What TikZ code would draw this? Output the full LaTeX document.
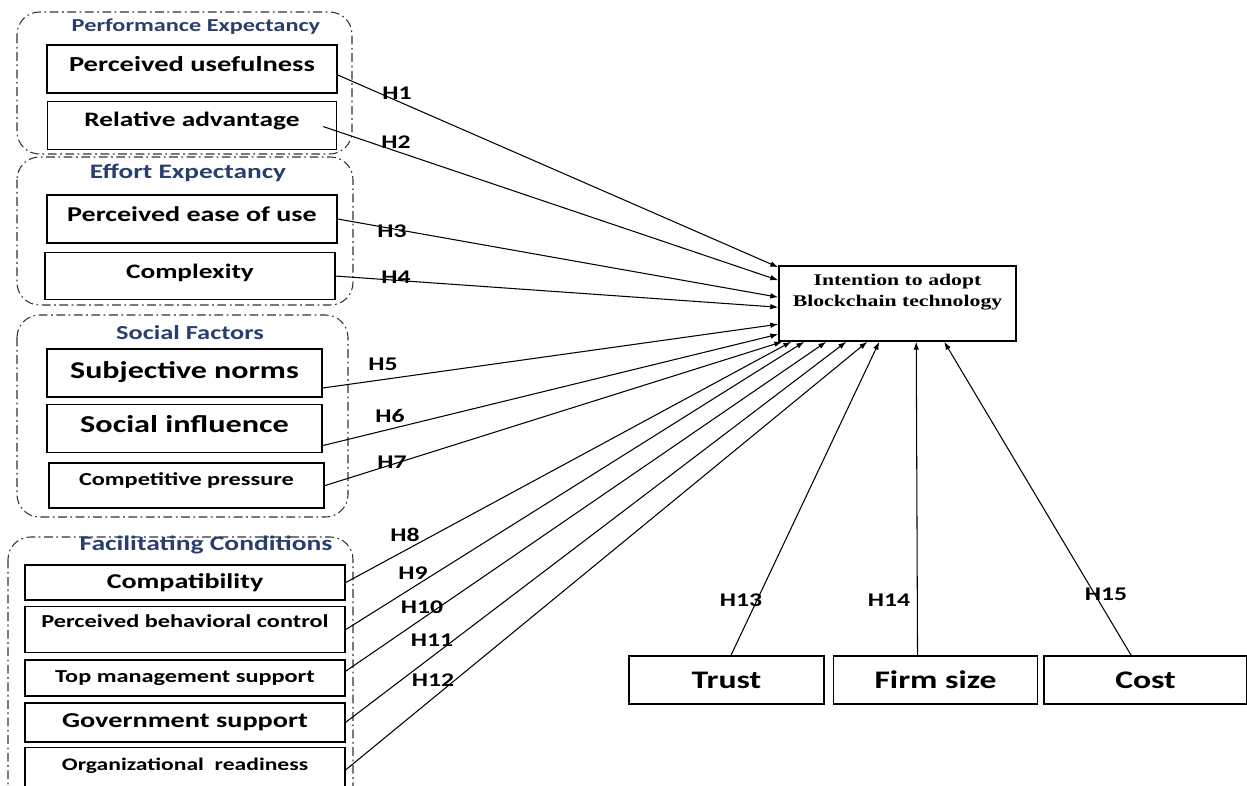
\documentclass[tikz,border=0pt]{standalone}
\usepackage{fontspec}
\setmainfont{Carlito}[FakeStretch=1.33]
\newfontfamily\serifb{Liberation Serif}[FakeStretch=1.33]
\usetikzlibrary{arrows.meta,positioning}
\definecolor{navy}{RGB}{40,62,110}
\newcommand\fsz[1]{\fontsize{#1}{#1}\selectfont}

\tikzset{
  box/.style={draw, line width=0.9pt, inner sep=0pt, font=\bfseries\fsz{#1}},
  group/.style={draw=black!80, line width=0.6pt, rounded corners=4.5mm,
    dash pattern=on 5pt off 2pt on 1pt off 2pt},
  gtitle/.style={text=navy, inner sep=0pt, font=\bfseries\fsz{#1}},
  hyp/.style={inner sep=0pt, font=\bfseries\fsz{11}},
  link/.style={line width=0.6pt, -{Latex[length=4.5pt,width=3.2pt]}},
}

\begin{document}
\begin{tikzpicture}[x=0.02cm, y=-0.02cm]
    \useasboundingbox (0,0) rectangle (1247,785);

    % Construct groups
    \draw[group] (17,12) rectangle (352,154);
    \draw[group] (17,157) rectangle (353,305);
    \draw[group] (17,315) rectangle (348,517);
    \draw[group] (8,537) rectangle (353,820);

    \node[gtitle=10.4] (perf) at (196,27) {Performance Expectancy};
    \node[gtitle=11.7] (effort) at (188,173) {Effort Expectancy};
    \node[gtitle=11.3] (social) at (190,333) {Social Factors};
    \node[gtitle=11.8] (facil) at (206,545) {Facilitating Conditions};

    % Determinants
    \node[box=12.2, minimum width=58mm, minimum height=9.6mm, text depth=5.2pt] (pu) at (192,69) {Perceived usefulness};
    \node[box=11.7, minimum width=57.8mm, minimum height=9.6mm, text depth=7.5pt, below=1.4mm of pu] (ra) {Relative advantage};
    \node[box=12, minimum width=58mm, minimum height=9.6mm, text depth=5.2pt] (pe) at (192,219) {Perceived ease of use};
    \node[box=11.7, minimum width=58mm, minimum height=9.4mm, text depth=5.8pt, below=1.6mm of pe, xshift=-0.4mm] (cx) {Complexity};

    \node[box=13.7, minimum width=55mm, minimum height=9.6mm, text depth=3.1pt] (sn) at (184.5,373) {Subjective norms};
    \node[box=13.8, minimum width=55mm, minimum height=9.6mm, text depth=5.3pt, below=1.2mm of sn] (si) {Social influence};
    \node[box=10.4, minimum width=55mm, minimum height=9mm, text depth=8pt, below=1.8mm of si, xshift=0.4mm] (cp) {Competitive pressure};

    \node[box=12, minimum width=64mm, minimum height=7mm] (co) at (185,582.5) {Compatibility};
    \node[box=10.4, minimum width=64mm, minimum height=9.2mm, text depth=9.7pt, below=1mm of co] (pb) {Perceived behavioral control};
    \node[box=10.4, minimum width=64mm, minimum height=7.2mm, below=1.2mm of pb] (tm) {Top management support};
    \node[box=12.1, minimum width=64mm, minimum height=7.8mm, below=1mm of tm] (gs) {Government support};
    \node[box=10.1, minimum width=64mm, minimum height=11.8mm, text depth=14.8pt, below=0.8mm of gs] (or) {Organizational~ readiness};

    % Outcome
    \node[draw, line width=0.9pt, inner sep=0pt, minimum width=47.4mm, minimum height=15mm, align=center,
      font=\serifb\bfseries\fontsize{9.3}{11.9}\selectfont, text depth=14.6pt] (intent) at (897.5,303.5)
      {Intention to adopt\\Blockchain technology};

    \node[box=14.4, minimum width=39mm, minimum height=9.6mm] (trust) at (726.5,680) {Trust};
    \node[box=14.4, minimum width=40.8mm, minimum height=9.6mm, right=1.6mm of trust] (firm) {Firm size};
    \node[box=14.4, minimum width=40.6mm, minimum height=9.6mm, right=1mm of firm] (cost) {Cost};

    % Hypotheses
    \draw[link] ([shift={(0,6)}]pu.east) -- ([shift={(0,2)}]intent.north west);
    \draw[link] ([shift={(-14,1)}]ra.east) -- ([shift={(0,15)}]intent.north west);
    \draw[link] (pe.east) -- ([shift={(0,32)}]intent.north west);
    \draw[link] (cx.east) -- ([shift={(0,42)}]intent.north west);
    \draw[link] ([shift={(0,15)}]sn.east) -- ([shift={(0,59)}]intent.north west);
    \draw[link] ([shift={(0,17)}]si.east) -- ([shift={(0,69)}]intent.north west);
    \draw[link] (cp.east) -- ([shift={(4,0)}]intent.south west);
    \draw[link] (co.east) -- ([shift={(13,0)}]intent.south west);
    \draw[link] (pb.east) -- ([shift={(26,0)}]intent.south west);
    \draw[link] ([shift={(0,-7)}]tm.east) -- ([shift={(48,0)}]intent.south west);
    \draw[link] (gs.east) -- ([shift={(68,0)}]intent.south west);
    \draw[link] ([shift={(0,-7)}]or.east) -- ([shift={(89,0)}]intent.south west);
    \draw[link] ([shift={(4.5,0)}]trust.north) -- ([shift={(101,0)}]intent.south west);
    \draw[link] ([shift={(-18,0)}]firm.north) -- ([shift={(138,0)}]intent.south west);
    \draw[link] ([shift={(-14.5,0)}]cost.north) -- ([shift={(166,0)}]intent.south west);

    % Labels
    \node[hyp] (h1) at (397,93) {H1};
    \node[hyp] (h2) at (396,142) {H2};
    \node[hyp] (h3) at (392,231) {H3};
    \node[hyp] (h4) at (396,277) {H4};
    \node[hyp] (h5) at (383,364) {H5};
    \node[hyp] (h6) at (390,416) {H6};
    \node[hyp] (h7) at (392,462) {H7};
    \node[hyp] (h8) at (405,535) {H8};
    \node[hyp] (h9) at (413,573) {H9};
    \node[hyp] (h10) at (422,607) {H10};
    \node[hyp] (h11) at (432,640) {H11};
    \node[hyp] (h12) at (433,680) {H12};
    \node[hyp] (h13) at (741,600) {H13};
    \node[hyp] (h14) at (889,600) {H14};
    \node[hyp] (h15) at (1106,594) {H15};
\end{tikzpicture}
\end{document}
